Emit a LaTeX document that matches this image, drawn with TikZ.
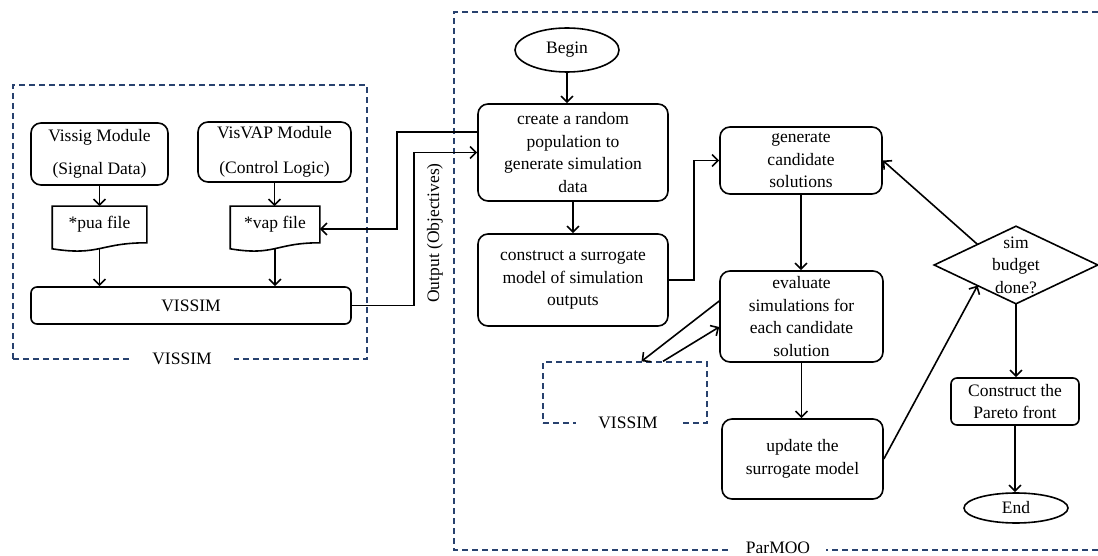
\documentclass[tikz,border=0pt]{standalone}
\usepackage{fontspec}
\setmainfont{Liberation Serif}
\usetikzlibrary{shapes.geometric,arrows.meta,calc}

\definecolor{framecol}{RGB}{40,65,110}

\begin{document}
\begin{tikzpicture}[x=1pt,y=-1pt,
        font=\rmfamily\fontsize{17.5}{22.5}\selectfont,
        >={Straight Barb[length=6pt,width=12pt]},
        line width=1.6pt,
        box/.style={draw, rounded corners=10pt, align=center, inner sep=0pt},
        term/.style={draw, ellipse, inner sep=0pt},
        docnode/.style={align=center, inner sep=0pt, minimum height=35pt},
        frame/.style={draw=framecol, dash pattern=on 6pt off 4pt, line width=1.4pt},
        framelabel/.style={fill=white, inner ysep=3pt}]
            \useasboundingbox (0,0) rectangle (1098,556);

            % Frames
            \node[frame, minimum width=354pt, minimum height=274pt] (vissimbox) at (190,222) {};
            \node[frame, minimum width=164pt, minimum height=61pt] (simbox) at (625,392.5) {};
            \draw[frame] (1098,12) -- (454,12) -- (454,550) -- (1098,550);
            \node[framelabel, inner xsep=22pt] (vissimlbl) at (182,359) {VISSIM};
            \node[framelabel, inner xsep=22pt] (simlbl) at (628,423) {VISSIM};
            \node[framelabel, inner xsep=16pt, inner ysep=1pt] (parmoolbl) at (778,548) {ParMOO};

            % Nodes (VISSIM side)
            \node[box, minimum width=137pt, minimum height=62pt] (vissig) at (99.5,154) {Vissig Module\\[10pt](Signal Data)};
            \node[box, minimum width=153pt, minimum height=60pt] (visvap) at (274.5,152) {VisVAP Module\\[12pt](Control Logic)};
            \node[docnode, minimum width=93pt] (puafile) at (99.5,224.5) {*pua file};
            \node[docnode, minimum width=88pt] (vapfile) at (275,224.5) {*vap file};
            \foreach \d in {puafile,vapfile}
                \draw (\d.north west) -- (\d.north east) -- (\d.south east)
                    .. controls ($(\d.south east)!0.5!(\d.south west)$) and ($(\d.south east)!0.5!(\d.south west)+(0,13.5)$) .. ($(\d.south west)+(0,6)$) -- cycle;
            \node[box, rounded corners=6pt, minimum width=320pt, minimum height=37pt] (vissim) at (191,305.5) {VISSIM};
            \node[rotate=90] (outlabel) at (435,233) {Output (Objectives)};

            % Nodes (ParMOO side)
            \node[term, minimum width=104pt, minimum height=44pt] (begin) at (567,50) {Begin};
            \node[box, minimum width=190pt, minimum height=97pt] (create) at (573,152.5) {create a random\\population to\\generate simulation\\data};
            \node[box, minimum width=190pt, minimum height=92pt] (construct) at (573,280) {construct a surrogate\\model of simulation\\outputs};
            \node[box, minimum width=162pt, minimum height=67pt] (generate) at (801,160.5) {generate\\candidate\\solutions};
            \node[box, minimum width=163pt, minimum height=91pt] (evaluate) at (801.5,316.5) {evaluate\\simulations for\\each candidate\\solution};
            \node[box, minimum width=161pt, minimum height=80pt] (update) at (802.5,459) {update the\\surrogate model};
            \node[align=center, inner sep=0pt, minimum width=162pt, minimum height=76pt] (budget) at (1016,265) {sim\\budget\\done?};
            \draw (budget.north) -- (budget.east) -- (budget.south) -- (budget.west) -- cycle;
            \node[box, rounded corners=6pt, minimum width=128pt, minimum height=47pt] (pareto) at (1015,401.5) {Construct the\\Pareto front};
            \node[term, minimum width=104pt, minimum height=30pt] (endnode) at (1016,508) {End};

            % Arrows
            \draw[->] (vissig) -- (puafile);
            \draw[->] ([yshift=-6pt]puafile.south) -- (puafile.south |- vissim.north);
            \draw[->] (visvap.south) -- (visvap.south |- vapfile.north);
            \draw[->] ([yshift=-6pt]vapfile.south) -- (vapfile.south |- vissim.north);
            \draw[->] ([yshift=20.5pt]create.west) -- ++(-80,0) |- ([yshift=-4.5pt]vapfile.east);
            \draw[->] (vissim.east) -- ++(62,0) |- (create.west);
            \draw[->] (begin.south) -- (begin.south |- create.north);
            \draw[->] (create) -- (construct);
            \draw[->] (construct.east) -- ++(25,0) |- (generate.west);
            \draw[->] (generate.south) -- (generate.south |- evaluate.north);
            \draw[->] (evaluate.south) -- (evaluate.south |- update.north);
            \draw[->] (update.east) -- ($(budget.west)!0.53!(budget.south)$);
            \draw[->] ($(budget.west)!0.53!(budget.north)$) -- (generate.east);
            \draw[->] (budget.south) -- (budget.south |- pareto.north);
            \draw[->] (pareto.south) -- (pareto.south |- endnode.north);
            \draw[->] ([yshift=15.5pt]evaluate.west) -- ($(simbox.north west)!0.6!(simbox.north east)$);
            \draw[->] ($(simbox.north west)!0.73!(simbox.north east)$) -- ([yshift=-10.5pt]evaluate.west);
        \end{tikzpicture}
\end{document}
